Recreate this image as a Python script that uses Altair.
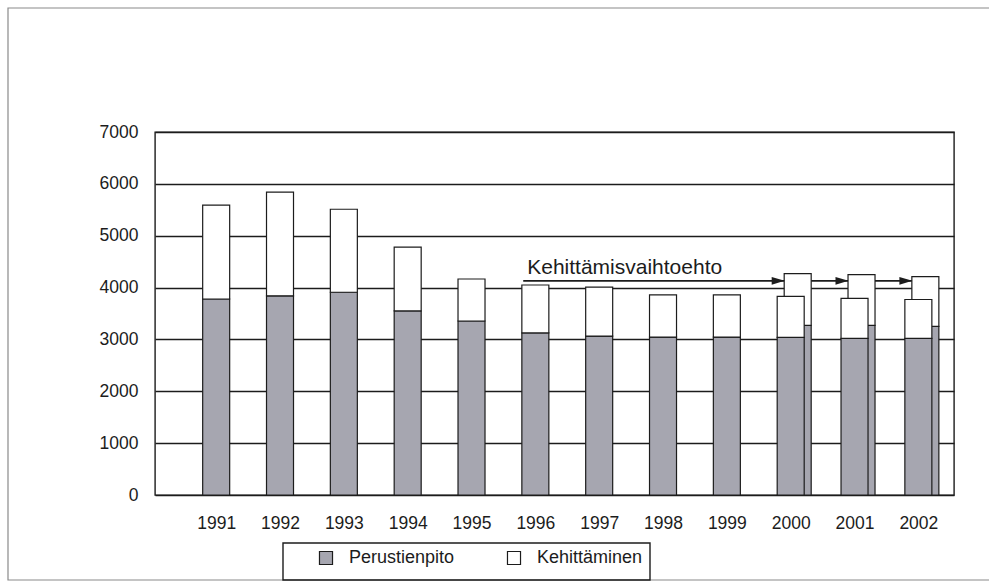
import altair as alt
import pandas as pd

# ---- data ----
years = [1991, 1992, 1993, 1994, 1995, 1996, 1997, 1998, 1999, 2000, 2001, 2002]
perustienpito = [3780, 3840, 3910, 3550, 3355, 3125, 3065, 3045, 3045, 3040, 3020, 3020]
kehittaminen = [1810, 2000, 1600, 1230, 810, 925, 945, 815, 815, 790, 770, 750]

alt_years = [2000, 2001, 2002]
alt_perustienpito = [3270, 3270, 3250]
alt_kehittaminen = [1000, 980, 960]

series = ["Perustienpito", "Kehittäminen"]
y_ticks = [0, 1000, 2000, 3000, 4000, 5000, 6000, 7000]

annot_text = "Kehittämisvaihtoehto"
arrow_level = 4130
arrow_start = 1995.81

# ---- tables ----
def long_table(yrs, a, b):
    rows = []
    for y, p, k in zip(yrs, a, b):
        rows.append({"year": y, "series": series[0], "value": p, "ord": 0})
        rows.append({"year": y, "series": series[1], "value": k, "ord": 1})
    return pd.DataFrame(rows)

main_df = long_table(years, perustienpito, kehittaminen)
alt_df = long_table(alt_years, alt_perustienpito, alt_kehittaminen)
line_df = pd.DataFrame({"year": [arrow_start, alt_years[-1]], "value": [arrow_level, arrow_level]})
arrow_df = pd.DataFrame({"year": alt_years, "value": [arrow_level] * len(alt_years)})
text_df = pd.DataFrame({"year": [arrow_start], "value": [arrow_level], "label": [annot_text]})

FONT = "Liberation Sans"
INK = "#1c1c1c"
GRAY = "#a6a6b0"

xscale = alt.Scale(domain=[1990.12, 2002.48], nice=False, zero=False)
yscale = alt.Scale(domain=[0, 7000], nice=False)

X = alt.X("year:Q", scale=xscale,
          axis=alt.Axis(values=years, format="d", ticks=False, domain=False, grid=False,
                        labelFontSize=17.5, labelPadding=19, labelColor=INK, title=None))
yaxis = alt.Axis(values=y_ticks, format="d", ticks=False, domain=False, grid=True,
                 gridColor=INK, gridWidth=1.4, gridOpacity=1,
                 labelFontSize=17.5, labelPadding=17, labelColor=INK, title=None)
Y = alt.Y("value:Q", scale=yscale, stack="zero", axis=yaxis)
Yplain = alt.Y("value:Q", scale=yscale, axis=yaxis)

color = alt.Color("series:N",
                  scale=alt.Scale(domain=series, range=[GRAY, "#ffffff"]),
                  sort=series,
                  legend=alt.Legend(orient="none", legendX=157, legendY=412,
                                    direction="horizontal", title=None,
                                    symbolType="square", symbolSize=170,
                                    symbolStrokeColor=INK, symbolStrokeWidth=1.2,
                                    labelFontSize=18, labelColor=INK, labelOffset=14,
                                    columnPadding=50, padding=5))

# figure frame and legend box (decoration)
frame = alt.Chart(pd.DataFrame({"a": [0]})).mark_rect(
    fill=None, stroke="#8a8a8a", strokeWidth=1.2
).encode(x=alt.value(-147), x2=alt.value(845), y=alt.value(-124), y2=alt.value(448))

legend_box = alt.Chart(pd.DataFrame({"a": [0]})).mark_rect(
    fill=None, stroke=INK, strokeWidth=1.4
).encode(x=alt.value(128), x2=alt.value(495), y=alt.value(411), y2=alt.value(448))

line = alt.Chart(line_df).mark_line(color=INK, strokeWidth=1.6).encode(x=X, y=Yplain)

alt_bars = alt.Chart(alt_df).mark_bar(size=27, xOffset=7, stroke=INK, strokeWidth=1.2).encode(
    x=X, y=Y, color=color, order=alt.Order("ord:Q"))

main_bars = alt.Chart(main_df).mark_bar(size=27, stroke=INK, strokeWidth=1.2).encode(
    x=X, y=Y, color=color, order=alt.Order("ord:Q"))

arrows = alt.Chart(arrow_df).mark_point(
    shape="M-1,-0.6L1,0L-1,0.6Z", filled=True, size=169, color=INK, opacity=1, xOffset=-12.5
).encode(x=X, y=Yplain)

text = alt.Chart(text_df).mark_text(
    align="left", baseline="alphabetic", dx=4, dy=-7, fontSize=21, color=INK
).encode(x=X, y=Yplain, text="label:N")

chart = alt.layer(frame, legend_box, line, alt_bars, main_bars, arrows, text).properties(
    width=799, height=363,
    autosize=alt.AutoSizeParams(type="none"),
    padding={"left": 155, "top": 132, "right": 35, "bottom": 88},
    background="white",
).configure(font=FONT).configure_view(stroke=INK, strokeWidth=1.4)

chart.save("out.html", embed_options={"renderer": "svg", "actions": False})
